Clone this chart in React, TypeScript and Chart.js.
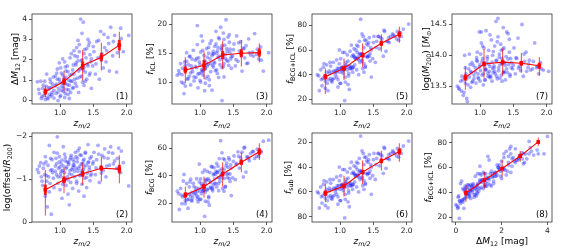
import React, { useEffect, useRef } from 'react';
import { Chart, registerables } from 'chart.js';
Chart.register(...registerables);
Chart.defaults.font.family = '"DejaVu Sans", sans-serif';

// ---------- scatter data (one entry per cluster) ----------
const zm2 = [0.66,0.69,0.72,0.74,0.76,0.77,0.78,0.79,0.80,0.81,
0.83,0.84,0.85,0.86,0.87,0.88,0.89,0.91,0.93,0.94,
0.95,0.96,0.97,0.98,0.99,1.00,1.01,1.02,1.03,1.04,
1.05,1.06,1.07,1.08,1.09,1.10,1.11,1.12,1.13,1.14,
1.15,1.16,1.17,1.18,1.19,1.20,0.96,1.02,1.08,1.14,
1.21,1.22,1.23,1.24,1.25,1.26,1.27,1.28,1.29,1.30,
1.31,1.32,1.33,1.34,1.35,1.36,1.37,1.38,1.39,1.40,
1.41,1.43,1.44,1.45,1.47,1.33,1.27,1.36,1.42,1.46,
1.49,1.51,1.53,1.55,1.57,1.59,1.61,1.63,1.65,1.67,
1.69,1.72,1.74,1.76,1.79,1.82,1.85,1.88,1.91,1.95,
2.03,
0.68,0.71,0.73,0.75,0.78,0.80,0.82,0.84,0.86,0.88,0.90,0.91,
0.93,0.95,0.97,0.99,1.00,1.01,1.03,1.04,1.05,1.07,1.08,1.09,1.11,1.12,1.13,1.15,1.16,1.18,1.19,1.20,
1.21,1.22,1.24,1.25,1.26,1.28,1.29,1.30,1.32,1.33,1.35,1.36,1.38,1.40,1.42,1.44,1.45,1.47,
1.50,1.54,1.58,1.62,1.66,1.70,1.73,
1.80,1.86,1.92];

const dm12 = [0.92,0.35,0.10,0.60,0.25,0.95,0.05,0.45,0.70,0.15,
0.55,0.30,1.05,0.20,0.65,0.40,0.80,0.12,1.20,0.35,
0.80,1.55,0.00,0.60,1.85,0.90,0.25,1.35,0.70,2.05,
0.45,1.10,0.15,0.85,1.45,0.55,1.70,0.30,1.00,0.75,
1.25,0.40,2.30,0.95,1.50,0.65,1.05,0.50,1.65,0.10,
1.30,2.20,0.85,1.75,2.60,1.10,1.95,0.40,2.40,1.55,
4.00,1.20,2.00,0.90,3.85,1.65,2.50,1.40,2.10,1.05,
1.80,2.70,1.25,2.25,0.60,1.60,2.95,0.75,3.00,1.90,
1.70,2.40,1.30,2.90,2.10,1.05,3.40,2.30,1.60,2.60,
1.90,3.10,1.45,3.60,2.20,3.20,1.40,2.75,3.55,2.40,
3.20,
0.55,0.95,0.20,0.75,0.38,1.30,0.08,0.62,0.90,0.28,1.15,0.50,
0.72,1.35,0.42,1.05,0.18,1.60,0.85,1.25,0.62,1.90,0.35,1.15,0.78,1.42,0.52,2.10,0.95,1.30,0.60,1.75,
2.45,1.05,1.85,0.70,2.15,1.45,2.75,1.15,1.95,3.30,1.50,2.30,0.95,2.55,1.70,2.85,1.35,2.05,
2.65,1.80,2.95,2.00,3.25,2.45,2.80,
2.90,2.35,3.05];

const fBcgIcl = [40,27,36,37,49,39,29,38,42,33,
36,43,50,47,35,42,36,37,43,42,
38,45,30,45,60,42,33,45,45,58,
44,44,19,38,50,46,56,32,41,47,
45,45,64,55,46,46,43,46,47,28,
55,54,53,53,64,54,53,40,56,57,
85,56,51,45,71,49,68,47,68,55,
54,66,55,57,38,52,63,42,64,62,
53,71,50,67,71,61,70,69,55,75,
59,67,66,71,73,71,69,68,74,77,
81,
39,44,31,46,35,48,27,41,37,34,50,43,
40,52,36,49,33,53,43,46,41,58,34,48,44,51,39,59,47,45,42,56,
61,48,60,44,58,52,67,50,57,73,55,62,46,65,55,70,51,60,
66,62,71,65,76,67,70,
72,75,71];

const fIcl = [11.2,11.5,10.0,12.4,8.0,13.5,9.3,12.2,15.1,10.5,
13.0,11.0,14.5,9.5,12.8,14.0,11.8,10.2,13.8,10.8,
12.5,16.5,9.0,14.2,11.5,13.0,10.0,18.0,12.0,15.5,
11.2,14.6,8.5,9.8,13.4,15.8,12.8,11.0,16.0,10.4,
14.0,13.2,17.2,8.6,14.9,12.6,19.8,11.6,12.3,9.4,
13.5,16.2,12.0,18.8,15.0,11.5,14.3,10.8,17.5,13.0,
19.5,15.6,12.5,14.2,18.5,10.9,16.4,14.8,20.8,13.8,
15.3,12.9,16.9,15.7,12.4,6.8,16.0,13.2,17.8,14.0,
14.5,16.6,12.8,18.0,13.6,15.4,17.0,11.9,15.9,14.2,
16.3,13.3,15.1,14.7,15.2,18.4,14.8,14.0,16.1,11.9,
15.1,
12.0,13.2,11.3,9.8,12.9,13.6,10.6,14.4,11.6,12.3,15.5,10.9,
12.7,14.1,11.4,13.5,10.3,15.2,12.2,17.1,11.9,13.7,12.5,10.7,14.3,13.1,15.0,16.7,11.8,14.6,12.9,15.3,
14.9,13.3,16.6,12.1,15.4,17.7,14.5,13.9,15.9,16.3,12.7,17.4,14.1,15.8,13.6,18.2,15.1,14.4,
15.6,13.9,16.8,14.6,15.8,13.2,17.5,
14.5,15.7,13.8];

const fBcg = [28.8,15.5,26.0,24.6,41.0,25.5,19.7,25.8,26.9,22.5,
23.0,32.0,35.5,37.5,22.2,28.0,24.2,26.8,29.2,31.2,
25.5,28.5,21.0,30.8,48.5,29.0,23.0,27.0,33.0,42.5,
32.8,29.4,10.5,28.2,36.6,30.2,43.2,21.0,25.0,36.6,
31.0,31.8,46.8,46.4,31.1,33.4,23.2,34.4,34.7,18.6,
41.5,37.8,41.0,34.2,49.0,42.5,38.7,29.2,38.5,44.0,
65.5,40.4,38.5,30.8,52.5,38.1,51.6,32.2,47.2,41.2,
38.7,53.1,38.1,41.3,25.6,45.2,47.0,28.8,46.2,48.0,
38.5,54.4,37.2,49.0,57.4,45.6,53.0,57.1,39.1,60.8,
42.7,53.7,50.9,56.3,57.8,52.6,54.2,54.0,57.9,65.1,
65.9,
27.0,30.8,19.7,36.2,22.1,34.4,16.4,26.6,25.4,21.7,34.5,32.1,
27.3,37.9,24.6,35.5,22.7,37.8,30.8,28.9,29.1,44.3,21.5,37.3,29.7,37.9,24.0,42.3,35.2,30.4,29.1,40.7,
46.1,34.7,43.4,31.9,42.6,34.3,52.5,36.1,41.1,56.7,42.3,44.6,31.9,49.2,41.4,51.8,35.9,45.6,
50.4,48.1,54.2,50.4,60.2,53.8,52.5,
57.5,59.3,57.2];

const fSub = [60,73,64,63,51,61,71,62,58,67,
64,57,50,53,65,58,64,63,57,58,
62,55,70,55,40,58,67,55,55,42,
56,56,81,62,50,54,44,68,59,53,
55,55,36,45,54,54,57,54,53,72,
45,46,47,47,36,46,47,60,44,43,
15,44,49,55,29,51,32,53,32,45,
46,34,45,43,62,48,37,58,36,38,
47,29,50,33,29,39,30,31,45,25,
41,33,34,29,27,29,31,32,26,23,
19,
61,56,69,54,65,52,73,59,63,66,50,57,
60,48,64,51,67,47,57,54,59,42,66,52,56,49,61,41,53,55,58,44,
39,52,40,56,42,48,33,50,43,27,45,38,54,35,45,30,49,40,
34,38,29,35,24,33,30,
28,25,29];

const logM200 = [13.50,13.45,13.42,13.60,13.40,14.00,13.55,13.70,13.30,13.25,
13.78,13.65,13.85,13.48,13.72,13.88,13.58,13.62,13.80,13.55,
13.92,14.05,13.70,13.62,14.38,13.85,13.75,14.20,13.68,13.95,
13.52,14.12,13.60,13.78,14.40,13.88,13.98,13.66,14.08,13.74,
13.82,13.64,14.25,13.58,14.00,13.72,13.90,14.38,13.76,13.65,
13.80,14.15,13.70,14.55,13.92,13.62,14.30,13.75,14.02,13.85,
14.18,13.68,13.95,14.10,14.45,13.74,13.88,13.60,13.98,14.38,
13.72,13.85,14.05,13.66,13.80,13.58,14.60,13.72,14.35,13.95,
13.78,14.12,13.70,13.95,14.28,13.82,13.75,14.50,13.66,13.90,
14.05,13.80,13.92,13.76,13.78,14.20,13.80,13.70,13.88,13.76,
13.74,
13.47,13.58,13.66,13.35,13.80,13.62,13.52,14.02,13.74,13.56,13.84,13.68,
13.73,13.96,13.64,13.81,13.58,14.02,13.90,14.15,13.70,13.84,13.60,13.77,13.94,13.71,13.86,14.33,13.67,13.89,13.78,14.06,
13.83,13.74,13.91,13.66,14.22,13.80,13.97,13.63,14.08,13.86,13.72,14.12,13.84,13.78,13.94,14.26,13.69,13.88,
13.84,13.96,13.79,13.88,14.02,13.74,13.86,
13.90,13.82,13.78];

const logOffset = [-1.22,-1.30,-1.05,-0.85,-1.35,-1.10,-0.60,-1.40,-0.95,-0.35,
-1.05,-1.78,-0.90,-1.20,-0.18,-1.45,-1.15,-0.80,-1.30,-1.48,
-1.10,-1.60,-0.90,-1.25,-1.40,-0.75,-1.05,-1.35,-0.55,-1.20,
-1.75,-0.95,-1.15,-1.50,-0.85,-1.28,-1.05,-0.65,-1.38,-1.12,
-1.45,-0.92,-1.55,-1.22,-0.78,-1.32,-1.98,-1.18,-1.42,-0.40,
-1.40,-1.05,-1.62,-1.25,-0.95,-1.48,-1.18,-0.72,-1.72,-1.30,
-1.10,-1.55,-0.88,-1.36,-1.22,-1.46,-1.02,-1.60,-1.32,-0.80,
-1.14,-1.40,-1.28,-0.96,-1.52,-1.20,-1.66,-0.60,-1.80,-1.08,
-1.35,-1.62,-1.10,-1.45,-1.78,-0.92,-1.28,-1.55,-1.20,-1.70,
-1.05,-1.48,-1.32,-1.75,-1.60,-1.42,-1.25,-1.72,-1.15,-1.38,
-0.84,
-1.15,-1.38,-0.95,-1.25,-1.52,-1.08,-1.32,-0.70,-1.48,-1.22,-1.02,-1.62,
-1.18,-1.36,-1.05,-1.52,-1.28,-1.12,-1.44,-0.88,-1.30,-1.58,-1.00,-1.24,-1.40,-0.98,-1.34,-1.20,-1.50,-1.10,-1.26,-1.46,
-1.32,-1.18,-1.52,-0.90,-1.40,-1.25,-1.08,-1.56,-1.35,-1.15,-1.42,-1.28,-1.62,-1.04,-1.38,-1.22,-1.48,-1.12,
-1.40,-1.26,-1.58,-1.14,-1.50,-1.30,-1.62,
-1.35,-1.48,-1.65];

// ---------- binned means (red) ----------
const binZ = [0.78, 1.06, 1.34, 1.62, 1.89];
const binDm = [0.44, 1.24, 2.02, 2.81, 3.60];

const mDm = [0.44, 0.93, 1.72, 2.13, 2.72];
const loDm = [0.17, 0.44, 0.97, 1.47, 2.08];
const hiDm = [0.72, 1.46, 2.48, 2.84, 3.38];
const seDm = [0.15, 0.17, 0.2, 0.2, 0.26];

const mIcl = [12.1, 12.9, 14.7, 15.0, 15.1];
const loIcl = [9.8, 10.5, 12.3, 12.7, 13.4];
const hiIcl = [14.3, 15.3, 17.1, 17.3, 16.7];
const seIcl = [0.6, 0.9, 0.7, 0.7, 0.7];

const mBI = [38.3, 45.1, 55.9, 65.4, 72.7];
const loBI = [24.3, 35.6, 46.4, 58.6, 65.9];
const hiBI = [45.1, 53.2, 65.4, 72.7, 78.9];
const seBI = [2.2, 2.0, 2.0, 2.2, 2.5];

const mM = [13.64, 13.86, 13.89, 13.87, 13.83];
const loM = [13.44, 13.63, 13.67, 13.72, 13.67];
const hiM = [13.82, 14.10, 14.10, 14.04, 13.97];
const seM = [0.05, 0.04, 0.04, 0.04, 0.05];

const mOff = [-0.75, -0.98, -1.12, -1.25, -1.23];
const loOff = [-1.21, -1.27, -1.38, -1.52, -1.55];
const hiOff = [-0.15, -0.67, -0.86, -0.94, -0.90];
const seOff = [0.12, 0.08, 0.07, 0.06, 0.1];

const mBcg = [26.0, 32.1, 41.3, 49.8, 57.5];
const loBcg = [20.4, 24.1, 32.1, 42.5, 51.5];
const hiBcg = [32.1, 39.3, 49.8, 57.1, 63.6];
const seBcg = [2.0, 2.0, 1.8, 2.0, 2.5];

const mSub = [61.0, 55.2, 44.0, 35.0, 27.5];
const loSub = [53.3, 47.0, 34.7, 26.9, 20.8];
const hiSub = [68.2, 63.8, 53.8, 42.8, 35.7];
const seSub = [2.2, 2.0, 1.8, 2.0, 2.5];

const mBI8 = [39.4, 49.7, 59.1, 69.1, 80.6];
const loBI8 = [32.2, 43.0, 52.4, 64.5, 77.2];
const hiBI8 = [45.7, 56.4, 65.9, 73.4, 84.2];
const seBI8 = [2.0, 1.5, 1.2, 1.5, 1.5];

// ---------- ticks ----------
const zTicks = [1.0, 1.5, 2.0];
const dmXTicks = [0, 2, 4];
const dmYTicks = [0, 1, 2, 3, 4];
const iclTicks = [10, 15, 20];
const pctTicks = [20, 40, 60, 80];
const massTicks = [13.5, 14.0, 14.5];
const offTicks = [-2, -1, 0];
const bcgTicks = [20, 40, 60];

type Seg = { t: string; it?: boolean; sub?: boolean };
const zTitle: Seg[] = [{ t: 'z', it: true }, { t: 'm/2', it: true, sub: true }];
const dmTitle: Seg[] = [{ t: 'Δ' }, { t: 'M', it: true }, { t: '12', sub: true }, { t: ' [mag]' }];
const iclTitle: Seg[] = [{ t: 'f', it: true }, { t: 'ICL', sub: true }, { t: ' [%]' }];
const biTitle: Seg[] = [{ t: 'f', it: true }, { t: 'BCG+ICL', sub: true }, { t: ' [%]' }];
const massTitle: Seg[] = [{ t: 'log(' }, { t: 'M', it: true }, { t: '200', sub: true }, { t: ') [' }, { t: 'M', it: true }, { t: '⊙', sub: true }, { t: ']' }];
const offTitle: Seg[] = [{ t: 'log(offset/' }, { t: 'R', it: true }, { t: '200', sub: true }, { t: ')' }];
const bcgTitle: Seg[] = [{ t: 'f', it: true }, { t: 'BCG', sub: true }, { t: ' [%]' }];
const subTitle: Seg[] = [{ t: 'f', it: true }, { t: 'sub', sub: true }, { t: ' [%]' }];

const COLS = [32, 172, 312, 452];
const ROWS = [14, 133];
const BOX_W = 100;
const BOX_H = [90, 89];
const PAD_L = 33, PAD_T = 10, PAD_R = 7, PAD_B = 26;

interface Cfg {
  n: number; col: number; row: number;
  xs: number[]; ys: number[];
  bx: number[]; by: number[]; lo: number[]; hi: number[]; se: number[];
  xr: [number, number]; yr: [number, number]; rev?: boolean;
  xt: number[]; yt: number[]; xdec: number; ydec: number;
  yTitle: Seg[]; xTitle: Seg[]; yOff: number;
}

const panels: Cfg[] = [
  { n: 1, col: 0, row: 0, xs: zm2, ys: dm12, bx: binZ, by: mDm, lo: loDm, hi: hiDm, se: seDm, xr: [0.58, 2.08], yr: [-0.17, 4.25], xt: zTicks, yt: dmYTicks, xdec: 1, ydec: 0, yTitle: dmTitle, xTitle: zTitle, yOff: -17 },
  { n: 3, col: 1, row: 0, xs: zm2, ys: fIcl, bx: binZ, by: mIcl, lo: loIcl, hi: hiIcl, se: seIcl, xr: [0.58, 2.08], yr: [6.2, 21.8], xt: zTicks, yt: iclTicks, xdec: 1, ydec: 0, yTitle: iclTitle, xTitle: zTitle, yOff: -22 },
  { n: 5, col: 2, row: 0, xs: zm2, ys: fBcgIcl, bx: binZ, by: mBI, lo: loBI, hi: hiBI, se: seBI, xr: [0.58, 2.08], yr: [16.2, 89.2], xt: zTicks, yt: pctTicks, xdec: 1, ydec: 0, yTitle: biTitle, xTitle: zTitle, yOff: -22 },
  { n: 7, col: 3, row: 0, xs: zm2, ys: logM200, bx: binZ, by: mM, lo: loM, hi: hiM, se: seM, xr: [0.58, 2.08], yr: [13.21, 14.67], xt: zTicks, yt: massTicks, xdec: 1, ydec: 1, yTitle: massTitle, xTitle: zTitle, yOff: -26 },
  { n: 2, col: 0, row: 1, xs: zm2, ys: logOffset, bx: binZ, by: mOff, lo: loOff, hi: hiOff, se: seOff, xr: [0.58, 2.08], yr: [-2.07, 0], rev: true, xt: zTicks, yt: offTicks, xdec: 1, ydec: 0, yTitle: offTitle, xTitle: zTitle, yOff: -25 },
  { n: 4, col: 1, row: 1, xs: zm2, ys: fBcg, bx: binZ, by: mBcg, lo: loBcg, hi: hiBcg, se: seBcg, xr: [0.58, 2.08], yr: [6.4, 71.1], xt: zTicks, yt: bcgTicks, xdec: 1, ydec: 0, yTitle: bcgTitle, xTitle: zTitle, yOff: -23 },
  { n: 6, col: 2, row: 1, xs: zm2, ys: fSub, bx: binZ, by: mSub, lo: loSub, hi: hiSub, se: seSub, xr: [0.58, 2.08], yr: [12.5, 84.3], rev: true, xt: zTicks, yt: pctTicks, xdec: 1, ydec: 0, yTitle: subTitle, xTitle: zTitle, yOff: -24 },
  { n: 8, col: 3, row: 1, xs: dm12, ys: fBcgIcl, bx: binDm, by: mBI8, lo: loBI8, hi: hiBI8, se: seBI8, xr: [-0.17, 4.2], yr: [16, 87.8], xt: dmXTicks, yt: pctTicks, xdec: 0, ydec: 0, yTitle: biTitle, xTitle: dmTitle, yOff: -24 },
];

function fmt(v: number, dec: number) {
  const s = Math.abs(v).toFixed(dec);
  return v < 0 ? '\u2212' + s : s;
}

function drawRich(ctx: CanvasRenderingContext2D, segs: Seg[], size: number, cx: number, cy: number, rotate: boolean) {
  ctx.save();
  ctx.translate(cx, cy);
  if (rotate) ctx.rotate(-Math.PI / 2);
  const fontFor = (s: Seg) => `${s.it ? 'italic ' : ''}${s.sub ? size * 0.7 : size}px "DejaVu Sans"`;
  let total = 0;
  const ws = segs.map((s) => { ctx.font = fontFor(s); const w = ctx.measureText(s.t).width; total += w; return w; });
  let x = -total / 2;
  ctx.fillStyle = '#000';
  ctx.textAlign = 'left';
  ctx.textBaseline = 'alphabetic';
  const base = size * 0.36;
  segs.forEach((s, i) => {
    ctx.font = fontFor(s);
    ctx.fillText(s.t, x, base + (s.sub ? size * 0.22 : 0));
    x += ws[i];
  });
  ctx.restore();
}

function Panel({ cfg }: { cfg: Cfg }) {
  const ref = useRef<HTMLCanvasElement>(null);
  const boxH = BOX_H[cfg.row];
  const W = PAD_L + BOX_W + PAD_R;
  const H = PAD_T + boxH + PAD_B;
  const left = COLS[cfg.col] - PAD_L;
  const top = ROWS[cfg.row] - PAD_T;

  useEffect(() => {
    if (!ref.current) return;
    const deco = {
      id: 'deco' + cfg.n,
      afterDatasetsDraw(chart: any) {
        const ctx: CanvasRenderingContext2D = chart.ctx;
        const xs = chart.scales.x, ys = chart.scales.y;
        const a = chart.chartArea;
        ctx.save();
        ctx.beginPath();
        ctx.rect(a.left, a.top, a.right - a.left, a.bottom - a.top);
        ctx.clip();
        for (let i = 0; i < cfg.bx.length; i++) {
          const px = xs.getPixelForValue(cfg.bx[i]);
          ctx.strokeStyle = 'rgba(255,0,0,0.75)';
          ctx.lineWidth = 1;
          ctx.beginPath();
          ctx.moveTo(px, ys.getPixelForValue(cfg.lo[i]));
          ctx.lineTo(px, ys.getPixelForValue(cfg.hi[i]));
          ctx.stroke();
          ctx.strokeStyle = 'rgba(255,0,0,0.85)';
          ctx.lineWidth = 3;
          ctx.beginPath();
          ctx.moveTo(px, ys.getPixelForValue(cfg.by[i] - cfg.se[i]));
          ctx.lineTo(px, ys.getPixelForValue(cfg.by[i] + cfg.se[i]));
          ctx.stroke();
        }
        ctx.restore();
        ctx.save();
        ctx.strokeStyle = '#333';
        ctx.lineWidth = 0.8;
        ctx.strokeRect(a.left, a.top, a.right - a.left, a.bottom - a.top);
        ctx.fillStyle = '#000';
        ctx.font = '8.5px "DejaVu Sans"';
        ctx.textAlign = 'right';
        ctx.textBaseline = 'bottom';
        ctx.fillText('(' + cfg.n + ')', a.right - 4, a.bottom - 3);
        ctx.restore();
        drawRich(ctx, cfg.xTitle, 9, (a.left + a.right) / 2, a.bottom + 19, false);
        drawRich(ctx, cfg.yTitle, 9, a.left + cfg.yOff, (a.top + a.bottom) / 2, true);
      },
    };

    const tickFont = { size: 7.5, family: '"DejaVu Sans"' };
    const chart = new Chart(ref.current, {
      type: 'scatter',
      data: {
        datasets: [
          {
            type: 'line',
            data: cfg.bx.map((x, i) => ({ x, y: cfg.by[i] })),
            borderColor: 'rgb(255,0,0)',
            backgroundColor: 'rgb(255,0,0)',
            borderWidth: 1.1,
            pointStyle: 'rect',
            pointRadius: 2.5,
            pointBorderWidth: 0,
            pointBackgroundColor: 'rgb(255,0,0)',
            showLine: true,
            order: 0,
          } as any,
          {
            data: cfg.xs.map((x, i) => ({ x, y: cfg.ys[i] })),
            backgroundColor: 'rgba(20,20,255,0.36)',
            borderColor: 'rgba(20,20,255,0.36)',
            borderWidth: 0,
            pointRadius: 1.9,
            order: 1,
          },
        ],
      },
      options: {
        animation: false,
        responsive: false,
        maintainAspectRatio: false,
        events: [],
        layout: { padding: { top: PAD_T, right: PAD_R, left: 0, bottom: 0 } },
        plugins: { legend: { display: false }, tooltip: { enabled: false }, title: { display: false } },
        scales: {
          x: {
            type: 'linear',
            min: cfg.xr[0], max: cfg.xr[1],
            afterBuildTicks: (s: any) => { s.ticks = cfg.xt.map((v) => ({ value: v })); },
            afterFit: (s: any) => { s.height = PAD_B; s.paddingLeft = 0; s.paddingRight = 0; },
            ticks: { font: tickFont, color: '#222', padding: 1.5, maxRotation: 0, autoSkip: false, callback: (v: any) => fmt(Number(v), cfg.xdec) },
            grid: { display: true, drawOnChartArea: false, drawTicks: true, tickLength: 3, color: '#333', lineWidth: 0.8 },
            border: { display: false },
          },
          y: {
            type: 'linear',
            min: cfg.yr[0], max: cfg.yr[1],
            reverse: !!cfg.rev,
            afterBuildTicks: (s: any) => { s.ticks = cfg.yt.map((v) => ({ value: v })); },
            afterFit: (s: any) => { s.width = PAD_L; s.paddingTop = 0; s.paddingBottom = 0; },
            ticks: { font: tickFont, color: '#222', padding: 2, autoSkip: false, callback: (v: any) => fmt(Number(v), cfg.ydec) },
            grid: { display: true, drawOnChartArea: false, drawTicks: true, tickLength: 3, color: '#333', lineWidth: 0.8 },
            border: { display: false },
          },
        },
      },
      plugins: [deco],
    } as any);
    return () => chart.destroy();
  }, []);

  return (
    <canvas
      ref={ref}
      width={W}
      height={H}
      style={{ position: 'absolute', left, top, width: W, height: H }}
    />
  );
}

export default function App() {
  return (
    <div style={{ position: 'absolute', left: 0, top: 0, width: 568, height: 252, background: '#fff', overflow: 'hidden' }}>
      {panels.map((p) => <Panel key={p.n} cfg={p} />)}
    </div>
  );
}
